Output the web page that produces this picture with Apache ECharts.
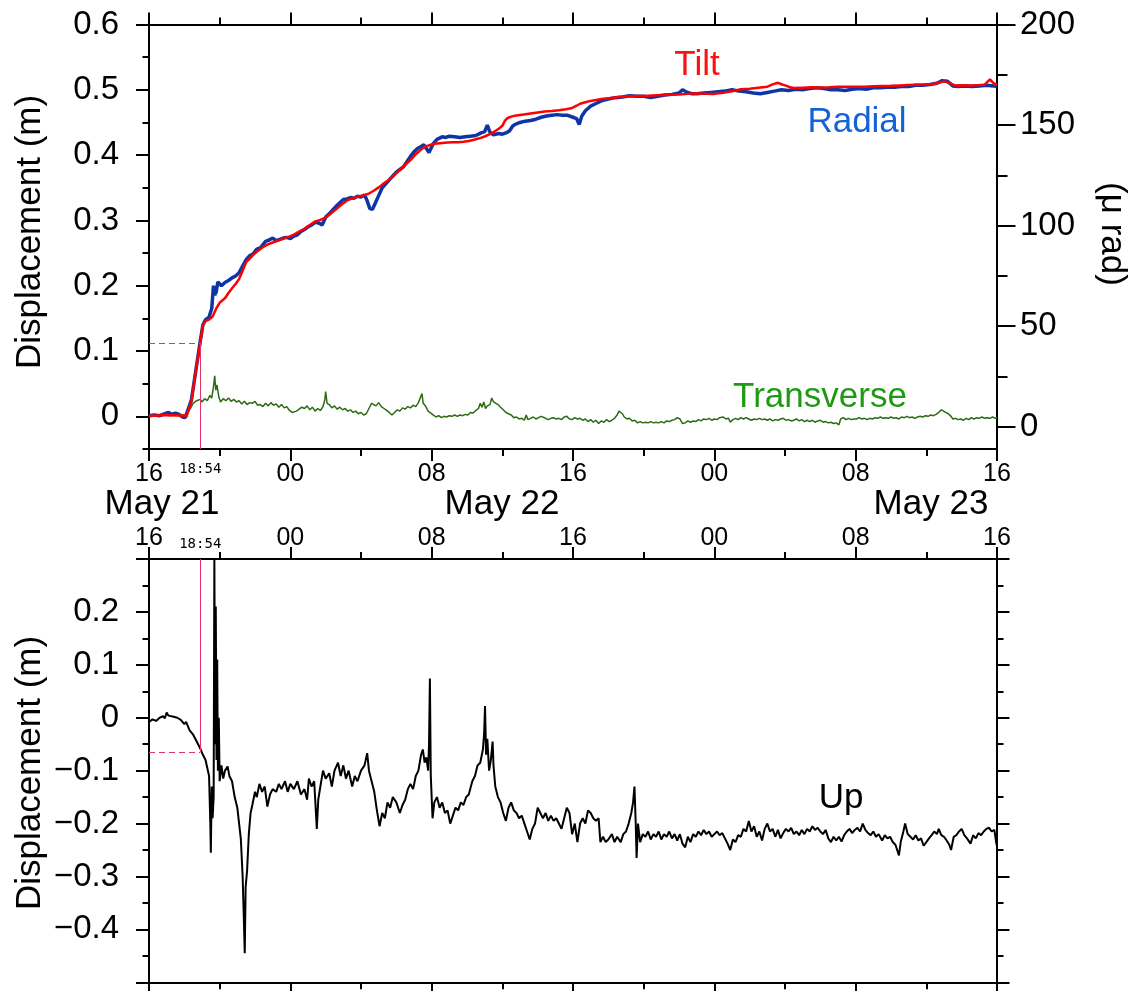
<!DOCTYPE html>
<html>
<head>
<meta charset="utf-8">
<title>Displacement and tilt, May 21–23</title>
<script src="https://cdn.jsdelivr.net/npm/echarts@6/dist/echarts.min.js"></script>
<style>
  html, body { margin: 0; padding: 0; background: #ffffff; }
  #chart { width: 1132px; height: 991px; }
</style>
</head>
<body>
<div id="chart"></div>
<script>
// Time is counted in hours after 16:00 on May 21.
const START_HOUR = 16;
const SPAN_H = 48;
const EVENT_LABEL = '18:54';
const EVENT_H = (18 + 54 / 60) - START_HOUR;
const EVENT_RADIAL = 0.112;   // m, radial displacement at 18:54
const EVENT_UP = -0.065;      // m, vertical displacement at 18:54

const dayLabels = ['May 21', 'May 22', 'May 23'];
const timeLabelHours = [0, EVENT_H, 8, 16, 24, 32, 40, 48];

// Radial displacement (m)
const radialHours = [0,0.3,0.6,0.9,1.1,1.3,1.5,1.7,1.9,2.05,2.15,2.4,2.65,2.9,3.05,3.2,3.4,3.55,3.65,3.72,3.8,3.9,4.1,4.3,4.5,4.7,4.9,5.1,5.3,5.5,5.7,5.9,6.1,6.3,6.6,6.8,7.0,7.2,7.4,7.6,7.8,8.0,8.2,8.4,8.6,8.8,9.0,9.2,9.4,9.6,9.8,10.0,10.2,10.4,10.6,10.8,11.0,11.2,11.4,11.6,11.8,12.0,12.2,12.35,12.5,12.65,12.8,13.0,13.2,13.4,13.6,13.8,14.0,14.2,14.4,14.6,14.8,15.0,15.2,15.4,15.55,15.7,15.85,15.95,16.1,16.3,16.6,16.8,17.0,17.3,17.6,17.9,18.2,18.5,18.8,19.0,19.15,19.3,19.5,19.8,20.0,20.2,20.4,20.6,20.8,21.0,21.3,21.6,21.9,22.2,22.5,22.8,23.1,23.4,23.7,24.0,24.2,24.35,24.5,24.7,25.0,25.3,25.6,26.0,26.4,26.8,27.2,27.6,28.0,28.4,28.8,29.2,29.6,30.0,30.2,30.4,30.7,31.0,31.4,31.8,32.2,32.6,33.0,33.4,33.8,34.2,34.6,35.0,35.4,35.8,36.2,36.6,37.0,37.4,37.8,38.2,38.6,39.0,39.4,39.8,40.2,40.6,41.0,41.4,41.8,42.2,42.6,43.0,43.4,43.8,44.2,44.6,44.9,45.2,45.5,45.8,46.2,46.6,47.0,47.4,47.8,48.0];
const radialValues = [0.001,0.002,0.001,0.004,0.006,0.003,0.005,0.003,-0.001,-0.002,0.001,0.025,0.07,0.115,0.14,0.148,0.152,0.165,0.2,0.186,0.19,0.206,0.2,0.205,0.208,0.212,0.215,0.22,0.23,0.24,0.246,0.249,0.256,0.258,0.268,0.27,0.273,0.269,0.271,0.273,0.274,0.272,0.276,0.278,0.283,0.286,0.29,0.293,0.297,0.296,0.293,0.305,0.31,0.316,0.322,0.327,0.332,0.333,0.335,0.334,0.337,0.336,0.339,0.33,0.318,0.317,0.326,0.338,0.35,0.356,0.362,0.368,0.374,0.378,0.382,0.39,0.398,0.405,0.41,0.413,0.416,0.41,0.404,0.402,0.418,0.424,0.428,0.427,0.429,0.428,0.427,0.428,0.429,0.43,0.434,0.436,0.446,0.435,0.431,0.433,0.432,0.434,0.437,0.445,0.448,0.45,0.452,0.453,0.455,0.458,0.46,0.461,0.462,0.461,0.461,0.458,0.456,0.447,0.46,0.468,0.475,0.479,0.483,0.486,0.488,0.489,0.491,0.49,0.49,0.488,0.49,0.492,0.493,0.495,0.5,0.497,0.494,0.494,0.495,0.496,0.497,0.498,0.5,0.498,0.497,0.495,0.494,0.496,0.498,0.5,0.499,0.501,0.5,0.502,0.503,0.502,0.5,0.5,0.499,0.501,0.502,0.501,0.503,0.503,0.504,0.504,0.505,0.505,0.507,0.507,0.508,0.51,0.514,0.513,0.506,0.505,0.506,0.505,0.506,0.507,0.506,0.505];

// Tilt (micro-radian, right axis)
const tiltHours = [0,0.5,1.0,1.5,2.0,2.12,2.4,2.65,2.9,3.05,3.2,3.4,3.6,3.8,4.0,4.3,4.5,4.7,4.9,5.1,5.3,5.5,5.7,5.9,6.1,6.4,6.7,7.0,7.3,7.6,7.9,8.2,8.5,8.8,9.1,9.4,9.7,10.0,10.3,10.6,10.9,11.2,11.5,11.8,12.1,12.4,12.7,13.0,13.3,13.6,13.9,14.2,14.5,14.8,15.1,15.5,15.75,16.0,16.3,16.6,16.9,17.2,17.5,17.8,18.1,18.4,18.7,19.0,19.3,19.6,19.8,20.0,20.15,20.3,20.55,20.8,21.2,21.6,22.0,22.4,22.8,23.2,23.6,23.9,24.2,24.4,24.7,25.0,25.3,25.6,26.0,26.3,26.6,27.0,27.5,28.0,28.5,29.0,29.5,30.0,30.5,31.0,31.5,32.0,32.5,33.0,33.5,34.0,34.5,35.0,35.3,35.6,35.8,36.0,36.3,36.5,37.0,37.5,38.0,38.5,39.0,39.5,40.0,40.5,41.0,41.5,42.0,42.5,43.0,43.5,44.0,44.4,44.7,45.0,45.3,45.6,46.0,46.5,47.0,47.3,47.6,47.8,48.0];
const tiltValues = [5.3,5.6,5.8,5.6,5.6,5.0,12.5,28,41.5,50.6,52.5,53.2,54.8,58.7,61.6,63.9,66.5,68.8,71,73.4,77.5,81.8,83.6,85.4,87,89,90.5,91.6,92.5,93.5,94.4,95.5,97,98.4,100.3,102,102.8,104,106,108.2,110.5,112.4,113.5,114.4,115,115.7,117.2,119,121,122.9,125.3,127.7,130.2,132.6,135.5,138.5,139.6,140.4,140.8,141.1,141.3,141.4,141.5,141.7,142.1,142.7,143.4,144.3,145.5,147,148.2,149.6,152.2,153.5,154.3,154.8,155.2,155.7,156.2,156.7,157,157.4,157.9,158.3,159.6,160.6,161.3,162,162.5,162.9,163.3,163.6,163.9,164.2,164.4,164.5,164.7,164.9,165.1,165.2,165.5,165.8,165.6,165.5,166,166.8,167.8,168.1,168.6,169.1,170.2,171,170.3,169.7,168.8,168.4,168.6,168.8,168.7,168.8,169,169.1,169,169.1,169.3,169.4,169.5,169.7,169.9,170.1,170.2,170.4,171,171.7,171,169.7,169.8,169.7,169.9,170.1,172.7,170.8,170.1];

// Transverse displacement (m)
const transHours = [0,0.3,0.6,0.9,1.2,1.5,1.8,2.1,2.3,2.5,2.7,2.9,3.0,3.15,3.3,3.45,3.55,3.65,3.72,3.78,3.85,3.95,4.05,4.2,4.35,4.5,4.65,4.8,4.95,5.1,5.25,5.4,5.55,5.7,5.85,6.0,6.15,6.3,6.45,6.6,6.75,6.9,7.05,7.2,7.35,7.5,7.65,7.8,7.95,8.1,8.2,8.35,8.5,8.65,8.8,8.95,9.1,9.25,9.4,9.55,9.7,9.85,9.95,10.0,10.08,10.2,10.35,10.5,10.65,10.8,10.95,11.1,11.25,11.4,11.55,11.7,11.85,12.0,12.15,12.3,12.45,12.6,12.7,12.85,13.0,13.15,13.3,13.45,13.6,13.75,13.9,14.05,14.2,14.35,14.5,14.65,14.8,14.95,15.1,15.25,15.35,15.45,15.52,15.65,15.8,15.95,16.1,16.25,16.4,16.55,16.7,16.85,17.0,17.15,17.3,17.45,17.6,17.75,17.9,18.05,18.2,18.35,18.5,18.65,18.75,18.85,18.95,19.05,19.15,19.3,19.4,19.5,19.6,19.75,19.9,20.05,20.2,20.35,20.5,20.65,20.8,20.95,21.1,21.25,21.35,21.45,21.6,21.75,21.9,22.05,22.2,22.3,22.45,22.6,22.75,22.9,23.05,23.2,23.35,23.5,23.65,23.8,23.95,24.1,24.25,24.4,24.55,24.7,24.85,25.0,25.15,25.3,25.45,25.6,25.75,25.9,26.05,26.2,26.35,26.5,26.6,26.7,26.8,26.9,27.05,27.2,27.35,27.5,27.65,27.8,27.95,28.1,28.25,28.4,28.55,28.7,28.85,29.0,29.15,29.3,29.45,29.6,29.75,29.9,30.05,30.2,30.35,30.5,30.65,30.8,30.95,31.1,31.25,31.4,31.55,31.7,31.85,32.0,32.15,32.3,32.4,32.5,32.65,32.8,32.9,33.05,33.2,33.35,33.5,33.65,33.8,33.95,34.1,34.25,34.4,34.55,34.7,34.85,35.0,35.15,35.3,35.45,35.6,35.75,35.9,36.05,36.2,36.35,36.5,36.65,36.8,36.95,37.1,37.25,37.4,37.55,37.7,37.85,38.0,38.15,38.3,38.45,38.6,38.75,38.9,39.05,39.15,39.3,39.45,39.6,39.75,39.9,40.05,40.2,40.35,40.5,40.65,40.8,40.95,41.1,41.25,41.4,41.55,41.7,41.85,42.0,42.15,42.3,42.45,42.6,42.75,42.9,43.05,43.2,43.35,43.5,43.65,43.8,43.95,44.1,44.25,44.4,44.55,44.7,44.85,44.95,45.1,45.25,45.4,45.5,45.65,45.8,45.95,46.1,46.25,46.4,46.55,46.7,46.85,47.0,47.15,47.3,47.45,47.6,47.75,47.9,48.0];
const transValues = [0.0,0.001,0.0,0.002,0.001,0.002,0.001,0.003,0.01,0.02,0.024,0.026,0.022,0.027,0.024,0.032,0.028,0.045,0.062,0.04,0.048,0.03,0.022,0.027,0.024,0.028,0.023,0.026,0.022,0.024,0.019,0.023,0.018,0.021,0.02,0.023,0.017,0.018,0.015,0.02,0.016,0.021,0.017,0.019,0.014,0.018,0.013,0.015,0.009,0.006,0.003,0.008,0.011,0.014,0.012,0.016,0.01,0.014,0.008,0.012,0.009,0.015,0.025,0.038,0.02,0.018,0.013,0.016,0.011,0.014,0.01,0.012,0.008,0.01,0.006,0.008,0.004,0.006,0.002,0.004,0.012,0.02,0.023,0.016,0.021,0.015,0.012,0.009,0.006,0.002,0.006,0.01,0.008,0.013,0.011,0.015,0.013,0.017,0.015,0.021,0.018,0.035,0.02,0.016,0.008,0.005,0.002,-0.001,0.001,-0.002,0.0,-0.001,0.001,0.0,0.002,0.0,0.002,0.001,0.003,0.002,0.006,0.005,0.009,0.012,0.02,0.014,0.022,0.012,0.016,0.018,0.028,0.022,0.024,0.018,0.014,0.01,0.006,0.004,0.002,-0.002,-0.001,-0.004,-0.003,-0.006,0.002,-0.005,-0.003,-0.001,-0.004,-0.002,0.0,0.002,-0.003,-0.005,-0.003,-0.002,-0.004,-0.003,-0.005,-0.001,0.0,-0.004,-0.005,-0.002,-0.004,-0.003,-0.006,-0.004,-0.008,-0.005,-0.009,-0.006,-0.011,-0.007,-0.009,-0.005,-0.008,-0.006,-0.003,0.002,0.008,0.01,0.004,-0.001,-0.004,-0.003,-0.007,-0.006,-0.01,-0.008,-0.01,-0.009,-0.01,-0.008,-0.01,-0.009,-0.01,-0.008,-0.01,-0.007,-0.008,-0.006,-0.005,-0.002,-0.004,-0.011,-0.01,-0.007,-0.009,-0.007,-0.008,-0.005,-0.007,-0.004,-0.005,-0.003,-0.006,-0.004,-0.005,-0.002,-0.003,-0.001,-0.004,-0.003,-0.009,-0.005,-0.003,-0.005,-0.002,-0.004,-0.002,-0.004,-0.006,-0.004,-0.005,-0.003,-0.005,-0.004,-0.006,-0.004,-0.007,-0.005,-0.006,-0.004,-0.003,-0.006,-0.005,-0.007,-0.006,-0.004,-0.007,-0.005,-0.008,-0.006,-0.008,-0.006,-0.009,-0.007,-0.006,-0.009,-0.008,-0.01,-0.009,-0.011,-0.01,-0.013,-0.004,-0.002,-0.005,-0.003,-0.005,-0.004,-0.004,-0.002,-0.004,-0.003,-0.005,-0.003,-0.004,-0.002,-0.003,-0.001,-0.003,-0.002,-0.003,-0.001,-0.003,-0.002,-0.004,-0.001,-0.002,0.0,-0.002,-0.001,-0.003,-0.001,0.0,-0.001,0.001,0.0,0.002,0.001,0.003,0.006,0.01,0.009,0.006,0.004,0.0,-0.004,-0.003,-0.005,-0.004,-0.006,-0.003,-0.005,-0.002,-0.004,-0.002,-0.003,-0.001,-0.003,-0.002,-0.003,-0.001,-0.003,-0.002];

// Vertical (Up) displacement (m)
const upHours = [0.0,0.2,0.4,0.6,0.8,0.9,1.0,1.1,1.2,1.4,1.5,1.6,1.8,2.0,2.1,2.3,2.5,2.7,2.9,3.05,3.2,3.3,3.4,3.47,3.5,3.55,3.6,3.66,3.7,3.74,3.78,3.82,3.86,3.9,3.95,4.0,4.1,4.2,4.3,4.45,4.55,4.7,4.85,5.0,5.1,5.2,5.3,5.36,5.42,5.47,5.55,5.65,5.75,5.85,6.0,6.1,6.25,6.4,6.55,6.7,6.85,7.0,7.2,7.35,7.5,7.7,7.85,8.0,8.2,8.4,8.6,8.8,8.95,9.05,9.2,9.35,9.5,9.58,9.7,9.85,10.0,10.2,10.35,10.5,10.7,10.85,11.0,11.15,11.3,11.5,11.65,11.8,12.0,12.2,12.35,12.45,12.6,12.75,12.9,13.05,13.2,13.35,13.5,13.65,13.8,14.0,14.2,14.35,14.5,14.65,14.8,14.95,15.1,15.25,15.4,15.5,15.6,15.7,15.8,15.85,15.9,15.95,16.05,16.15,16.3,16.45,16.6,16.75,16.9,17.05,17.2,17.35,17.5,17.65,17.8,17.95,18.1,18.3,18.45,18.6,18.75,18.9,18.97,19.02,19.08,19.15,19.25,19.35,19.45,19.5,19.6,19.75,19.9,20.05,20.2,20.35,20.5,20.65,20.8,20.95,21.1,21.25,21.4,21.55,21.7,21.85,22.0,22.15,22.3,22.45,22.6,22.75,22.9,23.05,23.2,23.35,23.5,23.65,23.8,23.95,24.1,24.25,24.4,24.55,24.7,24.85,25.0,25.15,25.3,25.45,25.55,25.7,25.85,26.0,26.2,26.35,26.5,26.7,26.85,27.0,27.15,27.3,27.4,27.48,27.55,27.6,27.68,27.8,27.95,28.1,28.25,28.4,28.55,28.7,28.85,29.0,29.15,29.3,29.45,29.6,29.75,29.9,30.05,30.2,30.35,30.5,30.65,30.8,30.95,31.1,31.25,31.4,31.55,31.7,31.85,32.0,32.15,32.3,32.45,32.6,32.75,32.9,33.05,33.2,33.35,33.5,33.65,33.8,33.95,34.1,34.25,34.4,34.55,34.7,34.85,35.0,35.15,35.3,35.45,35.6,35.75,35.9,36.05,36.2,36.35,36.5,36.65,36.8,36.95,37.1,37.25,37.4,37.55,37.7,37.85,38.0,38.15,38.3,38.45,38.6,38.75,38.9,39.05,39.2,39.35,39.5,39.65,39.8,39.95,40.1,40.25,40.4,40.55,40.7,40.85,41.0,41.15,41.3,41.5,41.65,41.8,41.95,42.1,42.25,42.35,42.45,42.55,42.7,42.8,42.95,43.1,43.25,43.4,43.55,43.7,43.85,44.0,44.15,44.3,44.45,44.6,44.7,44.85,45.0,45.15,45.3,45.4,45.55,45.7,45.85,46.0,46.15,46.3,46.5,46.65,46.8,46.95,47.1,47.25,47.4,47.55,47.7,47.85,47.95,48.0];
const upValues = [-0.008,-0.003,-0.006,0.0,0.003,-0.001,0.01,0.004,0.007,0.002,0.005,0.0,-0.004,-0.012,-0.008,-0.024,-0.032,-0.045,-0.058,-0.07,-0.08,-0.095,-0.11,-0.2,-0.255,-0.13,-0.19,-0.15,0.3,-0.05,0.21,-0.08,0.11,-0.1,0.0,-0.12,-0.09,-0.115,-0.1,-0.092,-0.11,-0.12,-0.15,-0.17,-0.2,-0.23,-0.3,-0.37,-0.445,-0.32,-0.29,-0.22,-0.18,-0.165,-0.14,-0.15,-0.125,-0.14,-0.13,-0.168,-0.145,-0.135,-0.14,-0.125,-0.135,-0.12,-0.14,-0.125,-0.135,-0.12,-0.145,-0.135,-0.155,-0.115,-0.13,-0.12,-0.21,-0.155,-0.13,-0.1,-0.115,-0.105,-0.13,-0.1,-0.085,-0.11,-0.09,-0.115,-0.1,-0.13,-0.11,-0.12,-0.1,-0.09,-0.067,-0.1,-0.12,-0.14,-0.175,-0.205,-0.18,-0.19,-0.16,-0.17,-0.15,-0.16,-0.18,-0.165,-0.155,-0.135,-0.125,-0.135,-0.11,-0.1,-0.07,-0.06,-0.085,-0.075,-0.1,-0.05,0.074,-0.11,-0.19,-0.16,-0.15,-0.17,-0.16,-0.18,-0.175,-0.2,-0.185,-0.17,-0.175,-0.16,-0.165,-0.15,-0.145,-0.12,-0.11,-0.09,-0.085,-0.06,-0.03,0.022,-0.07,-0.04,-0.1,-0.08,-0.045,-0.09,-0.13,-0.15,-0.16,-0.18,-0.195,-0.17,-0.16,-0.175,-0.18,-0.19,-0.185,-0.2,-0.215,-0.23,-0.21,-0.2,-0.17,-0.18,-0.19,-0.18,-0.195,-0.185,-0.195,-0.19,-0.2,-0.21,-0.19,-0.17,-0.18,-0.22,-0.2,-0.235,-0.2,-0.19,-0.2,-0.175,-0.18,-0.19,-0.195,-0.19,-0.235,-0.225,-0.235,-0.23,-0.22,-0.235,-0.225,-0.235,-0.22,-0.215,-0.2,-0.18,-0.16,-0.13,-0.2,-0.265,-0.2,-0.235,-0.22,-0.225,-0.215,-0.23,-0.22,-0.225,-0.215,-0.23,-0.22,-0.225,-0.215,-0.228,-0.22,-0.232,-0.22,-0.238,-0.245,-0.225,-0.235,-0.22,-0.225,-0.215,-0.222,-0.212,-0.22,-0.215,-0.225,-0.22,-0.215,-0.222,-0.218,-0.228,-0.238,-0.25,-0.23,-0.235,-0.222,-0.225,-0.21,-0.215,-0.195,-0.215,-0.205,-0.225,-0.215,-0.232,-0.21,-0.2,-0.215,-0.21,-0.225,-0.212,-0.228,-0.218,-0.21,-0.215,-0.208,-0.22,-0.215,-0.222,-0.212,-0.22,-0.21,-0.215,-0.205,-0.212,-0.208,-0.215,-0.22,-0.212,-0.228,-0.235,-0.225,-0.232,-0.225,-0.234,-0.222,-0.215,-0.21,-0.218,-0.212,-0.208,-0.215,-0.2,-0.212,-0.218,-0.222,-0.215,-0.225,-0.22,-0.232,-0.222,-0.228,-0.225,-0.235,-0.24,-0.25,-0.26,-0.235,-0.215,-0.2,-0.22,-0.225,-0.23,-0.222,-0.232,-0.228,-0.242,-0.235,-0.228,-0.222,-0.215,-0.22,-0.21,-0.222,-0.225,-0.232,-0.24,-0.25,-0.225,-0.222,-0.215,-0.21,-0.222,-0.228,-0.238,-0.222,-0.228,-0.218,-0.222,-0.215,-0.21,-0.208,-0.215,-0.212,-0.235,-0.243];

// Axis tick positions
const topLeftMajor = [0, 0.1, 0.2, 0.3, 0.4, 0.5, 0.6];
const topLeftMinor = [-0.05, 0.05, 0.15, 0.25, 0.35, 0.45, 0.55];
const topRightMajor = [0, 50, 100, 150, 200];
const topRightMinor = [25, 75, 125, 175];
const lowMajor = [-0.5, -0.4, -0.3, -0.2, -0.1, 0, 0.1, 0.2, 0.3];
const lowLabels = [-0.4, -0.3, -0.2, -0.1, 0, 0.1, 0.2];
const lowMinor = [-0.45, -0.35, -0.25, -0.15, -0.05, 0.05, 0.15, 0.25];

const FONT = '"Liberation Sans", Arial, Helvetica, sans-serif';
const INK = '#000000';
const PINK = '#e6336c';
const C_RADIAL = '#0d35a6';
const C_TILT = '#ff0000';
const C_TRANS = '#2c6b14';
const C_UP = '#000000';

const zip = (xs, ys) => xs.map((x, i) => [x, ys[i]]);

function hourLabel(h) {
  if (Math.abs(h - EVENT_H) < 1e-6) return '{s|' + EVENT_LABEL + '}';
  return String((START_HOUR + Math.round(h)) % 24).padStart(2, '0');
}
function metres(v) {
  const r = Math.round(v * 100) / 100;
  if (r === 0) return '0';
  return (r < 0 ? '\u2212' : '') + String(Math.abs(r));
}

const lineStyle = { color: INK, width: 2 };

function timeAxis(gridIndex, position, extra) {
  return Object.assign({
    type: 'value', gridIndex, position, min: 0, max: SPAN_H, interval: 8,
    axisLine: { show: true, onZero: false, lineStyle },
    axisTick: { show: true, inside: false, length: 12, lineStyle },
    minorTick: { show: true, splitNumber: 2, length: 7, lineStyle },
    axisLabel: { show: false },
    splitLine: { show: false }, minorSplitLine: { show: false }
  }, extra || {});
}
function timeLabels(margin) {
  return {
    show: true, customValues: timeLabelHours, formatter: hourLabel, margin,
    color: INK, fontFamily: FONT, fontSize: 25,
    rich: { s: { fontFamily: '"DejaVu Sans Mono", monospace', fontSize: 14, color: INK } }
  };
}
function eventTick(gridIndex, position, len) {
  return {
    type: 'value', gridIndex, position, min: 0, max: SPAN_H,
    axisLine: { show: false },
    axisTick: { show: true, customValues: [EVENT_H], length: len, lineStyle: { color: PINK, width: 1 } },
    axisLabel: { show: false }, splitLine: { show: false }
  };
}
function valAxis(gridIndex, position, min, max, ticks, len, showLine, label) {
  return {
    type: 'value', gridIndex, position, min, max,
    axisLine: { show: showLine, onZero: false, lineStyle },
    axisTick: { show: true, customValues: ticks, length: len, lineStyle },
    axisLabel: label || { show: false },
    splitLine: { show: false }
  };
}
function valLabels(values, fmt, margin) {
  return {
    show: true, customValues: values, formatter: fmt, margin,
    color: INK, fontFamily: FONT, fontSize: 33, padding: [4, 0, 0, 0]
  };
}

const TOP_MIN = -0.05, TOP_MAX = 0.6;
const TILT_MIN = -11.1, TILT_MAX = 200;
const LOW_MIN = -0.5, LOW_MAX = 0.3;

const option = {
  animation: false,
  backgroundColor: '#ffffff',
  grid: [
    { left: 149, right: 135, top: 24.5, bottom: 542, outerBoundsMode: 'none', containLabel: false },
    { left: 149, right: 135, top: 559, bottom: 8.7, outerBoundsMode: 'none', containLabel: false }
  ],
  xAxis: [
    timeAxis(0, 'bottom', { axisLabel: timeLabels(13) }),
    timeAxis(0, 'top'),
    eventTick(0, 'bottom', 13),
    timeAxis(1, 'top', { axisLabel: timeLabels(8) }),
    timeAxis(1, 'bottom'),
    eventTick(1, 'top', 18)
  ],
  yAxis: [
    valAxis(0, 'left', TOP_MIN, TOP_MAX, topLeftMajor, 13, true, valLabels(topLeftMajor, metres, 30)),
    valAxis(0, 'left', TOP_MIN, TOP_MAX, topLeftMinor, 6.5, false),
    valAxis(0, 'right', TILT_MIN, TILT_MAX, topRightMajor, 18.5, true, valLabels(topRightMajor, v => String(v), 23)),
    valAxis(0, 'right', TILT_MIN, TILT_MAX, topRightMinor, 10.5, false),
    valAxis(1, 'left', LOW_MIN, LOW_MAX, lowMajor, 13, true, valLabels(lowLabels, metres, 30)),
    valAxis(1, 'left', LOW_MIN, LOW_MAX, lowMinor, 6.5, false),
    valAxis(1, 'right', LOW_MIN, LOW_MAX, lowMajor, 12.5, true),
    valAxis(1, 'right', LOW_MIN, LOW_MAX, lowMinor, 6.5, false)
  ],
  series: [
    {
      name: 'Transverse', type: 'line', xAxisIndex: 0, yAxisIndex: 0,
      data: zip(transHours, transValues), showSymbol: false, symbol: 'none',
      lineStyle: { color: C_TRANS, width: 1.5 }, z: 2
    },
    {
      name: 'Radial', type: 'line', xAxisIndex: 0, yAxisIndex: 0,
      data: zip(radialHours, radialValues), showSymbol: false, symbol: 'none',
      lineStyle: { color: C_RADIAL, width: 3.5 }, z: 3,
      markLine: {
        silent: true, symbol: 'none', label: { show: false },
        lineStyle: { color: PINK, width: 1, type: 'solid' },
        data: [
          [{ coord: [EVENT_H, EVENT_RADIAL] }, { coord: [EVENT_H, TOP_MIN] }],
          [{ coord: [0, EVENT_RADIAL], lineStyle: { type: [6, 4] } }, { coord: [EVENT_H, EVENT_RADIAL] }]
        ]
      }
    },
    {
      name: 'Tilt', type: 'line', xAxisIndex: 0, yAxisIndex: 2,
      data: zip(tiltHours, tiltValues), showSymbol: false, symbol: 'none',
      lineStyle: { color: C_TILT, width: 2.5 }, z: 4
    },
    {
      name: 'Up', type: 'line', xAxisIndex: 3, yAxisIndex: 4,
      data: zip(upHours, upValues), showSymbol: false, symbol: 'none',
      lineStyle: { color: C_UP, width: 2 }, z: 3,
      markLine: {
        silent: true, symbol: 'none', label: { show: false },
        lineStyle: { color: PINK, width: 1, type: 'solid' },
        data: [
          [{ coord: [EVENT_H, LOW_MAX] }, { coord: [EVENT_H, EVENT_UP] }],
          [{ coord: [0, EVENT_UP], lineStyle: { type: [6, 4] } }, { coord: [EVENT_H, EVENT_UP] }]
        ]
      }
    }
  ],
  graphic: [
    { type: 'text', x: 162, y: 504, style: { text: dayLabels[0], font: '35px ' + FONT, fill: INK, align: 'center', verticalAlign: 'middle' } },
    { type: 'text', x: 502, y: 504, style: { text: dayLabels[1], font: '35px ' + FONT, fill: INK, align: 'center', verticalAlign: 'middle' } },
    { type: 'text', x: 931, y: 504, style: { text: dayLabels[2], font: '35px ' + FONT, fill: INK, align: 'center', verticalAlign: 'middle' } },
    { type: 'text', x: 697, y: 65, style: { text: 'Tilt', font: '35px ' + FONT, fill: '#ff1010', align: 'center', verticalAlign: 'middle' } },
    { type: 'text', x: 857, y: 122, style: { text: 'Radial', font: '35px ' + FONT, fill: '#1462d8', align: 'center', verticalAlign: 'middle' } },
    { type: 'text', x: 820, y: 397, style: { text: 'Transverse', font: '35px ' + FONT, fill: '#1e9a12', align: 'center', verticalAlign: 'middle' } },
    { type: 'text', x: 841, y: 798, style: { text: 'Up', font: '35px ' + FONT, fill: INK, align: 'center', verticalAlign: 'middle' } },
    { type: 'text', x: 30, y: 232, rotation: Math.PI / 2, style: { text: 'Displacement (m)', font: '35px ' + FONT, fill: INK, align: 'center', verticalAlign: 'middle' } },
    { type: 'text', x: 30, y: 773, rotation: Math.PI / 2, style: { text: 'Displacement (m)', font: '35px ' + FONT, fill: INK, align: 'center', verticalAlign: 'middle' } },
    { type: 'text', x: 1112, y: 234, rotation: -Math.PI / 2, style: { text: '(\u03bc rad)', font: '35px ' + FONT, fill: INK, align: 'center', verticalAlign: 'middle' } }
  ]
};

const chart = echarts.init(document.getElementById('chart'), null, { renderer: 'canvas' });
chart.setOption(option);
</script>
</body>
</html>
